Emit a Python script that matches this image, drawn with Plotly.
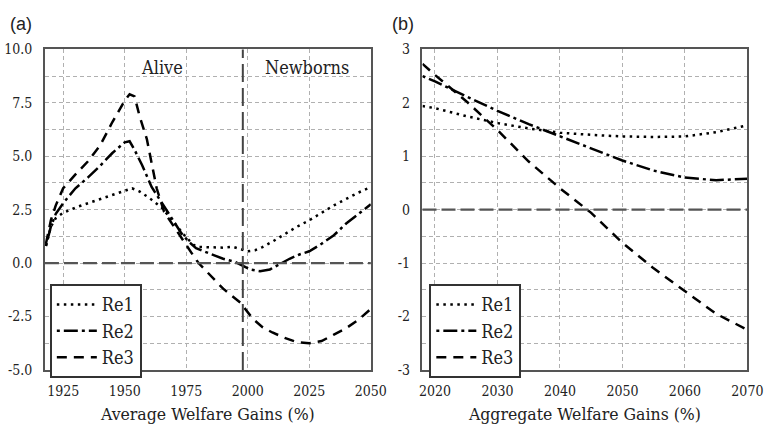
import plotly.graph_objects as go

# ---------------- data: panel (a) ----------------
years_a_re1 = [1918, 1920, 1922, 1925, 1930, 1935, 1940, 1945, 1950, 1953, 1956, 1960, 1965, 1969,
               1972, 1975, 1978, 1980, 1985, 1990, 1994, 1997, 2000, 2003, 2006, 2010, 2015, 2020,
               2025, 2030, 2035, 2040, 2045, 2050]
re1_a = [0.8, 1.7, 2.1, 2.35, 2.6, 2.8, 3.0, 3.2, 3.4, 3.5, 3.35, 3.05, 2.6, 2.05,
         1.6, 1.2, 0.85, 0.75, 0.74, 0.72, 0.76, 0.66, 0.55, 0.6, 0.75, 1.0, 1.35, 1.7,
         2.0, 2.35, 2.7, 3.0, 3.3, 3.55]

years_a_re2 = [1918, 1920, 1922, 1925, 1930, 1935, 1940, 1945, 1950, 1952, 1954, 1957, 1961, 1964,
               1967, 1970, 1973, 1976, 1979, 1985, 1990, 1995, 1998, 2001, 2005, 2009, 2013, 2017,
               2021, 2025, 2030, 2035, 2040, 2045, 2050]
re2_a = [0.8, 1.7, 2.3, 2.8, 3.5, 4.0, 4.55, 5.15, 5.65, 5.7, 5.3, 4.6, 3.55, 3.0,
         2.5, 1.9, 1.4, 1.0, 0.7, 0.42, 0.2, 0.05, -0.12, -0.3, -0.38, -0.3, -0.05, 0.2,
         0.4, 0.55, 0.9, 1.3, 1.85, 2.3, 2.75]

years_a_re3 = [1918, 1920, 1922, 1925, 1930, 1935, 1940, 1945, 1950, 1952, 1954, 1956, 1959, 1961,
               1963, 1966, 1970, 1973, 1977, 1980, 1985, 1990, 1997, 2002, 2006, 2010, 2015, 2020,
               2025, 2030, 2035, 2040, 2045, 2050]
re3_a = [0.9, 2.0, 2.7, 3.5, 4.15, 4.75, 5.5, 6.6, 7.6, 7.9, 7.8, 6.9, 5.8, 4.7,
         3.5, 2.4, 1.7, 1.15, 0.5, 0.0, -0.6, -1.2, -1.85, -2.6, -3.0, -3.25, -3.5, -3.7,
         -3.75, -3.65, -3.35, -3.05, -2.65, -2.15]

# ---------------- data: panel (b) ----------------
years_b = [2018, 2020, 2025, 2030, 2035, 2040, 2045, 2050, 2055, 2060, 2065, 2070]
re1_b = [1.94, 1.9, 1.75, 1.62, 1.52, 1.44, 1.4, 1.37, 1.36, 1.37, 1.45, 1.58]
re2_b = [2.5, 2.4, 2.12, 1.85, 1.6, 1.37, 1.14, 0.92, 0.73, 0.6, 0.55, 0.58]
re3_b = [2.73, 2.52, 2.03, 1.49, 0.9, 0.4, -0.06, -0.62, -1.1, -1.53, -1.95, -2.25]

# ---------------- axes / labels ----------------
xticks_a = [1925, 1950, 1975, 2000, 2025, 2050]
yticks_a = [10.0, 7.5, 5.0, 2.5, 0.0, -2.5, -5.0]
ytext_a = ["10.0", "7.5", "5.0", "2.5", "0.0", "-2.5", "-5.0"]
xticks_b = [2020, 2030, 2040, 2050, 2060, 2070]
yticks_b = [3, 2, 1, 0, -1, -2, -3]
ytext_b = ["3", "2", "1", "0", "-1", "-2", "-3"]
divide_year = 1998
names = ["Re1", "Re2", "Re3"]

SERIF = "DejaVu Serif Condensed, DejaVu Serif, serif"
dashes = ["2.5px,4.5px", "3px,4px,14px,4px", "10px,7px"]
LW = 2.5

fig = go.Figure()

series_a = [(years_a_re1, re1_a), (years_a_re2, re2_a), (years_a_re3, re3_a)]
series_b = [(years_b, re1_b), (years_b, re2_b), (years_b, re3_b)]

for i, (xs, ys) in enumerate(series_a):
    fig.add_trace(go.Scatter(x=xs, y=ys, mode="lines", name=names[i],
                             line=dict(color="black", width=LW, dash=dashes[i]),
                             xaxis="x", yaxis="y", legend="legend",
                             legendgroup="a%d" % i))
for i, (xs, ys) in enumerate(series_b):
    fig.add_trace(go.Scatter(x=xs, y=ys, mode="lines", name=names[i],
                             line=dict(color="black", width=LW, dash=dashes[i]),
                             xaxis="x2", yaxis="y2", legend="legend2",
                             legendgroup="b%d" % i))

W, H = 778, 426
ydom = [(H - 376) / H, (H - 43) / H]
grid = dict(gridcolor="#b0b0b0", gridwidth=1, griddash="4px,3px")
axline = dict(showline=True, linecolor="#555555", linewidth=1.5, mirror=True,
              ticks="", zeroline=False)
tickfont = dict(family=SERIF, size=14, color="#222")
titlefont = dict(family=SERIF, size=17.5, color="#222")
legfont = dict(family=SERIF, size=18, color="#222")

fig.update_layout(
    width=W, height=H,
    margin=dict(l=0, r=0, t=0, b=0),
    font=dict(family=SERIF, color="#222"),
    plot_bgcolor="white", paper_bgcolor="white",
    xaxis=dict(domain=[43 / W, 377 / W], range=[1917.6, 2050], tickvals=xticks_a,
               showgrid=True, **grid, **axline, tickfont=tickfont, ticklabelstandoff=8,
               title=dict(text="Average Welfare Gains (%)", font=titlefont, standoff=9),
               anchor="y"),
    yaxis=dict(domain=ydom, range=[-5, 10], tickvals=yticks_a, ticktext=ytext_a,
               showgrid=True, **grid, **axline, tickfont=tickfont, anchor="x",
               ticklabelstandoff=8,
               minor=dict(dtick=1.25, tick0=0, showgrid=True, **grid)),
    xaxis2=dict(domain=[430 / W, 763 / W], range=[2018, 2070], tickvals=xticks_b,
                showgrid=True, **grid, **axline, tickfont=tickfont, ticklabelstandoff=8,
                title=dict(text="Aggregate Welfare Gains (%)", font=titlefont, standoff=9),
                anchor="y2"),
    yaxis2=dict(domain=ydom, range=[-3, 3], tickvals=yticks_b, ticktext=ytext_b,
                showgrid=True, **grid, **axline, tickfont=tickfont, anchor="x2",
                ticklabelstandoff=8,
                minor=dict(dtick=0.5, tick0=0, showgrid=True, **grid)),
    legend=dict(x=48 / W, y=1 - 287 / H, xanchor="left", yanchor="top",
                bordercolor="#333", borderwidth=2, bgcolor="white",
                font=legfont, tracegroupgap=0, itemwidth=40),
    legend2=dict(x=437 / W, y=1 - 287 / H, xanchor="left", yanchor="top",
                 bordercolor="#333", borderwidth=2, bgcolor="white",
                 font=legfont, tracegroupgap=0, itemwidth=40),
    showlegend=True,
)

# zero lines and the alive/newborn divide
fig.add_shape(type="line", xref="x domain", yref="y", x0=0, x1=1, y0=0, y1=0,
              line=dict(color="#555", width=2.2, dash="14px,5px"), layer="above")
fig.add_shape(type="line", xref="x2 domain", yref="y2", x0=0, x1=1, y0=0, y1=0,
              line=dict(color="#555", width=2.2, dash="14px,5px"), layer="above")
fig.add_shape(type="line", xref="x", yref="y domain", x0=divide_year, x1=divide_year,
              y0=0, y1=1, line=dict(color="#444", width=2, dash="18px,6px"))

fig.add_annotation(x=1965, y=9.15, xref="x", yref="y", text="Alive", showarrow=False,
                   font=dict(family=SERIF, size=18, color="#222"))
fig.add_annotation(x=2024, y=9.15, xref="x", yref="y", text="Newborns", showarrow=False,
                   font=dict(family=SERIF, size=18, color="#222"))
fig.add_annotation(x=5 / W, y=1 - 17 / H, xref="paper", yref="paper", text="(a)",
                   showarrow=False, xanchor="left", yanchor="middle",
                   font=dict(family="Liberation Sans", size=18, color="#222"))
fig.add_annotation(x=397 / W, y=1 - 17 / H, xref="paper", yref="paper", text="(b)",
                   showarrow=False, xanchor="left", yanchor="middle",
                   font=dict(family="Liberation Sans", size=18, color="#222"))

fig.write_html("out.html")
